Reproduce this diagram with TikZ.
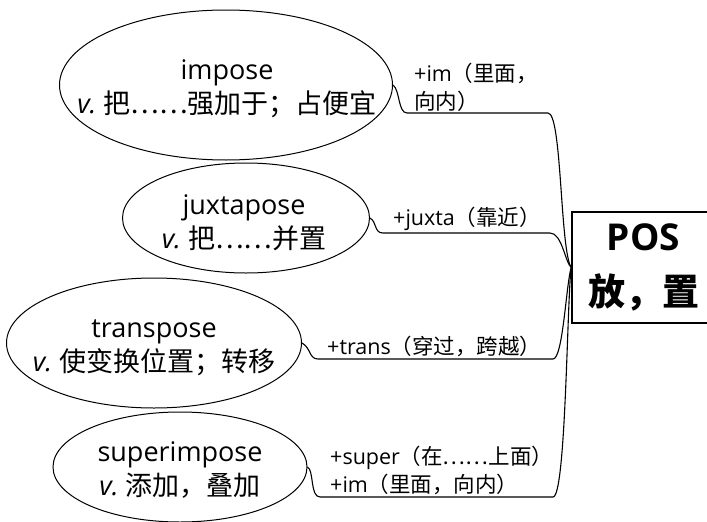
\documentclass[tikz,border=0pt]{standalone}
\usepackage{fontspec}
\setmainfont{Open Sans}
\newfontfamily\cjk{Noto Sans CJK SC}
\usetikzlibrary{shapes.geometric}
\tikzset{
  leaf/.style={draw, ellipse, line width=1pt, inner xsep=-80pt, inner ysep=-30pt, align=center,
    font=\fontsize{27}{34}\selectfont},
  ltext/.style={inner sep=0pt, align=center, font=\fontsize{27}{34}\selectfont},
  rootbox/.style={draw, line width=1.6pt, inner sep=0pt, align=center,
    minimum width=143pt, minimum height=111pt, font=\fontsize{37}{55}\selectfont\bfseries},
  lab/.style={inner sep=0pt, anchor=west, align=left, font=\fontsize{21.5}{28}\selectfont},
  link/.style={line width=1.1pt}
}
\newcommand{\vv}{\textit{v.}\ }
\begin{document}
\begin{tikzpicture}[x=1pt,y=-1pt]
\useasboundingbox (0,0) rectangle (707,522);
\node[rootbox] (root) at (643.5,267.5) {POS\\\cjk{放，置}};
\node[leaf, minimum width=333pt, minimum height=150pt] (e1) at (226,85) {};
\node[leaf, minimum width=247pt, minimum height=110pt] (e2) at (246,218) {};
\node[leaf, minimum width=295pt, minimum height=130pt] (e3) at (154,343) {};
\node[leaf, minimum width=254pt, minimum height=110pt] (e4) at (180,467) {};
\node[ltext] (t1) at (227,89) {impose\\\vv\cjk{把……强加于；占便宜}};
\node[ltext] (t2) at (244,223) {juxtapose\\\vv\cjk{把……并置}};
\node[ltext] (t3) at (154,348) {transpose\\\vv\cjk{使变换位置；转移}};
\node[ltext] (t4) at (180,470) {superimpose\\\vv\cjk{添加，叠加}};
\node[lab] (l1) at (414,87) {+im\cjk{（里面，}\\\cjk{向内）}};
\node[lab] (l2) at (393,219) {+juxta\cjk{（靠近）}};
\node[lab] (l3) at (327,346) {+trans\cjk{（穿过，跨越）}};
\node[lab] (l4) at (330,470) {+super\cjk{（在……上面）}\\+im\cjk{（里面，向内）}};
\coordinate (a1) at (407,113); \coordinate (b1) at (548,113);
\coordinate (a2) at (383,233); \coordinate (b2) at (550,233);
\coordinate (a3) at (318,359); \coordinate (b3) at (553,359);
\coordinate (a4) at (320,497); \coordinate (b4) at (553,497);
\draw[link] (e1.east) .. controls (400,90) and (398,113) .. (a1) -- (b1)
  .. controls (562,113) and (560,250) .. (root.west);
\draw[link] (e2.east) .. controls (377,222) and (374,233) .. (a2) -- (b2)
  .. controls (562,233) and (565,262) .. (root.west);
\draw[link] (e3.east) .. controls (311,348) and (309,359) .. (a3) -- (b3)
  .. controls (563,359) and (566,285) .. (root.west);
\draw[link] (e4.east) .. controls (314,470) and (310,497) .. (a4) -- (b4)
  .. controls (566,497) and (567,300) .. (root.west);
\end{tikzpicture}
\end{document}
